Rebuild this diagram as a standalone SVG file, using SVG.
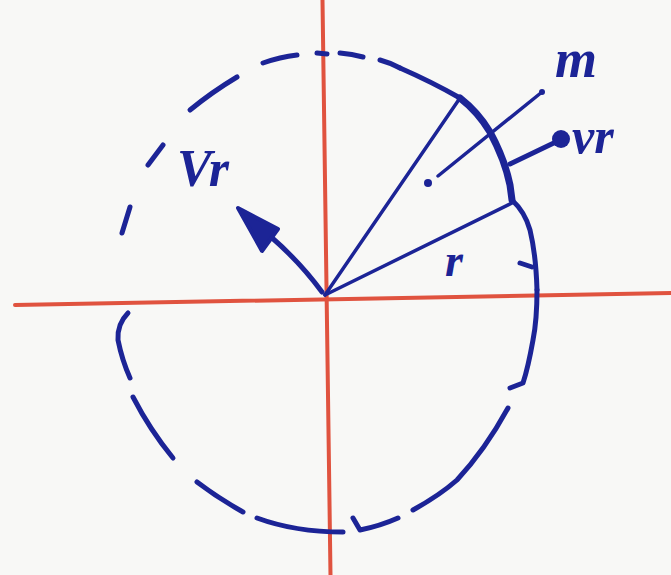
<svg xmlns="http://www.w3.org/2000/svg" width="671" height="575" viewBox="0 0 671 575">
<style>
.axis{stroke:#e0533f;stroke-width:4;fill:none;stroke-linecap:round}
.ink{stroke:#1c2496;stroke-width:5;fill:none;stroke-linecap:round;stroke-linejoin:round}
.thin{stroke:#1c2496;stroke-width:3.5;fill:none;stroke-linecap:round}
.lbl{fill:#1c2496;font-family:"Liberation Serif","DejaVu Serif",serif;font-style:italic;font-weight:bold}
</style>
<rect width="671" height="575" fill="#f8f8f6"/>
<g id="axes">
<line class="axis" x1="15" y1="305" x2="671" y2="293"/>
<line class="axis" x1="322.5" y1="0" x2="330.5" y2="575"/>
</g>
<g id="circle">
<path class="ink" d="M263,63 Q280,57 297,55"/>
<path class="ink" d="M317,53 L327,54"/>
<path class="ink" d="M340,53 Q352,54 363,57"/>
<path class="ink" d="M380,60 Q391,63 400,68"/>
<path class="ink" d="M400,68 Q432,82 460,98"/>
<path class="ink" d="M190,110 Q212,92 237,77"/>
<path class="ink" d="M148,165 L163,145"/>
<path class="ink" d="M122,233 L130,207"/>
<path class="ink" d="M128,313 Q117,324 118,340 Q122,360 130,378"/>
<path class="ink" d="M133,397 Q150,430 173,458"/>
<path class="ink" d="M197,482 Q218,498 243,512"/>
<path class="ink" d="M257,518 Q295,532 343,532"/>
<path class="ink" d="M353,518 L360,530 Q380,526 398,518"/>
<path class="ink" d="M413,510 Q440,495 457,480 Q485,450 508,408"/>
<path class="ink" d="M537,290 Q537,320 533,340 Q528,368 523,383 L510,388"/>
<path class="ink" style="stroke-width:7" d="M460,98 Q478,112 490,132 Q505,160 510,185 L512,200"/>
<path class="ink" d="M512,200 Q525,212 530,230 Q536,255 537,290"/>
<path class="ink" d="M520,263 L532,267"/>
</g>
<g id="radii">
<line class="thin" x1="325" y1="295" x2="460" y2="98"/>
<line class="thin" x1="325" y1="295" x2="514" y2="202"/>
</g>
<g id="mass">
<line class="thin" x1="438" y1="176" x2="542" y2="92"/>
<circle cx="428" cy="183" r="4" fill="#1c2496"/>
<circle cx="542" cy="92" r="3" fill="#1c2496"/>
<line class="ink" x1="510" y1="164" x2="560" y2="140"/>
<circle cx="561" cy="139" r="9" fill="#1c2496"/>
</g>
<g id="velocity">
<path class="ink" d="M322,292 Q300,262 270,236"/>
<polygon points="238,208 278,229 262,251" fill="#1c2496" stroke="#1c2496" stroke-width="4" stroke-linejoin="round"/>
</g>
<g id="labels">
<text class="lbl" x="177" y="186" font-size="52">Vr</text>
<text class="lbl" x="555" y="77" font-size="54">m</text>
<text class="lbl" x="572" y="153" font-size="50">vr</text>
<text class="lbl" x="445" y="276" font-size="46">r</text>
</g>
</svg>
